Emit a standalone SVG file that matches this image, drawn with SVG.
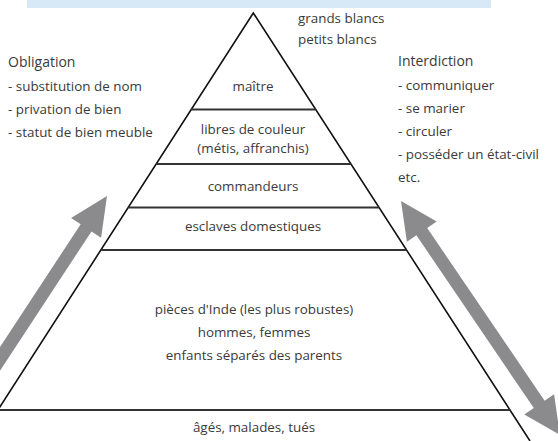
<svg xmlns="http://www.w3.org/2000/svg" width="558" height="441" viewBox="0 0 558 441">
<style>
text{font-family:"Open Sans","Noto Sans",sans-serif;font-size:13.4px;fill:#3a3a3a}
.h{font-size:14px}
.c{text-anchor:middle}
.edge{stroke:#111;stroke-width:1.6;fill:none}
.tier{stroke:#333;stroke-width:2}
.arrow{fill:#8b8b8d}
</style>
<rect x="27" y="0" width="464" height="8" fill="#d7e9f7"/>
<g id="pyramid">
<path class="edge" d="M-22,441 L253.3,13 L530,441"/>
<line class="tier" x1="191.2" y1="109.5" x2="315.7" y2="109.5"/>
<line class="tier" x1="156.4" y1="164" x2="350.8" y2="164"/>
<line class="tier" x1="128.4" y1="207.5" x2="378.9" y2="207.5"/>
<line class="tier" x1="101.1" y1="250" x2="406.4" y2="250"/>
<line class="tier" x1="0" y1="410" x2="510.4" y2="410"/>
</g>
<g id="blancs"><text x="298" y="23">grands blancs</text><text x="298" y="44">petits blancs</text></g>
<g id="maitre"><text class="c" x="253" y="91">maître</text></g>
<g id="libres"><text class="c" x="253" y="134">libres de couleur</text><text class="c" x="253" y="152.5">(métis, affranchis)</text></g>
<g id="commandeurs"><text class="c" x="253" y="191">commandeurs</text></g>
<g id="domestiques"><text class="c" x="253" y="231">esclaves domestiques</text></g>
<g id="pieces"><text class="c" x="254" y="314">pièces d'Inde (les plus robustes)</text><text class="c" x="254" y="337">hommes, femmes</text><text class="c" x="254" y="360">enfants séparés des parents</text></g>
<g id="ages"><text class="c" x="254" y="432">âgés, malades, tués</text></g>
<g id="obligation">
<text class="h" x="8" y="67">Obligation</text>
<text x="8" y="91">- substitution de nom</text>
<text x="8" y="114">- privation de bien</text>
<text x="8" y="137">- statut de bien meuble</text>
</g>
<g id="interdiction">
<text class="h" x="398" y="66">Interdiction</text>
<text x="398" y="89.5">- communiquer</text>
<text x="398" y="112.5">- se marier</text>
<text x="398" y="135.5">- circuler</text>
<text x="398" y="158.5">- posséder un état-civil</text>
<text x="398" y="181.5">etc.</text>
</g>
<g id="connectors">
<polygon class="arrow" points="107,196 101.1,237.7 91.5,231.4 -4.6,377.7 -15.4,370.5 80.7,224.2 71.1,217.9"/>
<polygon class="arrow" points="401,201 436.7,221.5 427.2,228 544.6,400.7 554.1,394.3 560,435 524.3,414.5 533.8,408.1 416.4,235.3 406.9,241.7"/>
</g>
</svg>
